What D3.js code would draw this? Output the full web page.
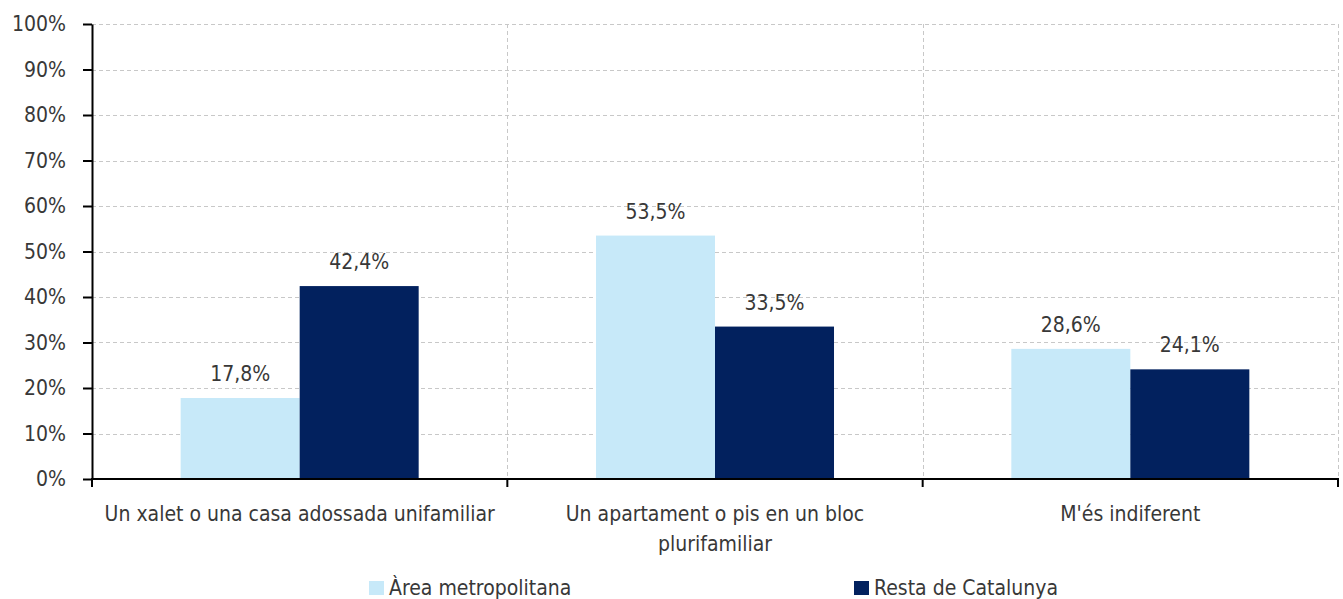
<!DOCTYPE html>
<meta charset="utf-8">
<style>
    html, body {
        margin: 0;
        background: white;
    }

    text {
        font-family: "DejaVu Sans Condensed", "Liberation Sans Narrow", sans-serif;
        fill: #383838;
    }

    .grid line {
        stroke: #c8c8c8;
        stroke-width: 1;
        stroke-dasharray: 4, 3;
    }
</style>
<div id="container"></div>
<script src="https://d3js.org/d3.v7.min.js"></script>
<script>
    // chart data
    var categories = [
        "Un xalet o una casa adossada unifamiliar",
        "Un apartament o pis en un bloc plurifamiliar",
        "M'és indiferent"
    ];
    // category labels split in lines as in the reference
    var categoryLines = [
        ["Un xalet o una casa adossada unifamiliar"],
        ["Un apartament o pis en un bloc", "plurifamiliar"],
        ["M'és indiferent"]
    ];
    var series = ["Àrea metropolitana", "Resta de Catalunya"];
    var areaMetropolitana = [17.8, 53.5, 28.6];
    var restaCatalunya = [42.4, 33.5, 24.1];
    var yTicks = [0, 10, 20, 30, 40, 50, 60, 70, 80, 90, 100];
    var colors = ["#c7e9f9", "#02215e"];

    var width = 1343, height = 599;
    var margin = {top: 24, right: 5, bottom: 120, left: 92};

    var svg = d3.select("#container")
        .append("svg")
        .attr("width", width)
        .attr("height", height);

    var x0 = d3.scaleBand()
        .domain(categories)
        .range([margin.left, width - margin.right])
        .paddingInner(0)
        .paddingOuter(0);

    var x1 = d3.scaleBand()
        .domain(series)
        .range([0, x0.bandwidth()])
        .paddingInner(0)
        .paddingOuter(0.745);

    var y = d3.scaleLinear()
        .domain([0, 100])
        .range([height - margin.bottom, margin.top]);

    var fontSize = "21px";
    var numFormat = function(v) { return d3.format(".1f")(v).replace(".", ",") + "%"; };

    // horizontal grid
    var grid = svg.append("g").attr("class", "grid");
    grid.selectAll("line.h")
        .data(yTicks.filter(function(d) { return d > 0; }))
        .enter().append("line")
        .attr("class", "h")
        .attr("x1", margin.left)
        .attr("x2", width - margin.right)
        .attr("y1", function(d) { return Math.round(y(d)) + 0.5; })
        .attr("y2", function(d) { return Math.round(y(d)) + 0.5; });

    // vertical grid at category boundaries
    var bounds = categories.slice(1).map(function(c) { return x0(c); }).concat([x0.range()[1]]);
    grid.selectAll("line.v")
        .data(bounds)
        .enter().append("line")
        .attr("class", "v")
        .attr("x1", function(d) { return Math.round(d) + 0.5; })
        .attr("x2", function(d) { return Math.round(d) + 0.5; })
        .attr("y1", y(100))
        .attr("y2", y(0));

    // bars
    var rows = categories.map(function(c, i) {
        return {cat: c, values: [
            {key: series[0], value: areaMetropolitana[i]},
            {key: series[1], value: restaCatalunya[i]}
        ]};
    });

    var groups = svg.append("g")
        .selectAll("g")
        .data(rows)
        .enter().append("g")
        .attr("transform", function(d) { return "translate(" + x0(d.cat) + ",0)"; });

    groups.selectAll("rect")
        .data(function(d) { return d.values; })
        .enter().append("rect")
        .attr("x", function(d) { return x1(d.key); })
        .attr("width", x1.bandwidth())
        .attr("y", function(d) { return y(d.value); })
        .attr("height", function(d) { return y(0) - y(d.value); })
        .attr("fill", function(d, i) { return colors[i]; });

    groups.selectAll("text")
        .data(function(d) { return d.values; })
        .enter().append("text")
        .attr("x", function(d) { return x1(d.key) + x1.bandwidth() / 2; })
        .attr("y", function(d) { return y(d.value) - 17; })
        .attr("text-anchor", "middle")
        .style("font-size", fontSize)
        .text(function(d) { return numFormat(d.value); });

    // y axis
    var yAxis = svg.append("g")
        .attr("transform", "translate(" + margin.left + ",0)")
        .call(d3.axisLeft(y)
            .tickValues(yTicks)
            .tickSize(9)
            .tickSizeOuter(0)
            .tickPadding(17)
            .tickFormat(function(d) { return d + "%"; }));
    yAxis.select(".domain").attr("stroke", "#000").attr("stroke-width", 2);
    yAxis.selectAll(".tick line").attr("stroke", "#000").attr("stroke-width", 2);
    yAxis.selectAll(".tick text")
        .style("font-size", fontSize)
        .attr("fill", "#383838");

    // x axis
    var xAxisG = svg.append("g");
    xAxisG.append("line")
        .attr("x1", margin.left - 1)
        .attr("x2", width - margin.right + 1)
        .attr("y1", y(0))
        .attr("y2", y(0))
        .attr("stroke", "#000")
        .attr("stroke-width", 2);
    xAxisG.selectAll("line.tick")
        .data([x0.range()[0]].concat(bounds))
        .enter().append("line")
        .attr("class", "tick")
        .attr("x1", function(d) { return d; })
        .attr("x2", function(d) { return d; })
        .attr("y1", y(0))
        .attr("y2", y(0) + 8)
        .attr("stroke", "#000")
        .attr("stroke-width", 2);

    xAxisG.selectAll("text")
        .data(categories)
        .enter().append("text")
        .attr("text-anchor", "middle")
        .attr("transform", function(d) { return "translate(" + (x0(d) + x0.bandwidth() / 2) + "," + (y(0) + 42) + ")"; })
        .style("font-size", fontSize)
        .each(function(d, i) {
            var t = d3.select(this);
            categoryLines[i].forEach(function(line, j) {
                t.append("tspan").attr("x", 0).attr("dy", j === 0 ? 0 : 30).text(line);
            });
        });

    // legend
    var legendX = [369, 854];
    var legend = svg.append("g")
        .selectAll("g")
        .data(series)
        .enter().append("g")
        .attr("transform", function(d, i) { return "translate(" + legendX[i] + ",581)"; });
    legend.append("rect")
        .attr("width", 15)
        .attr("height", 14)
        .attr("fill", function(d, i) { return colors[i]; });
    legend.append("text")
        .attr("x", 20)
        .attr("y", 14)
        .style("font-size", fontSize)
        .text(function(d) { return d; });
</script>
